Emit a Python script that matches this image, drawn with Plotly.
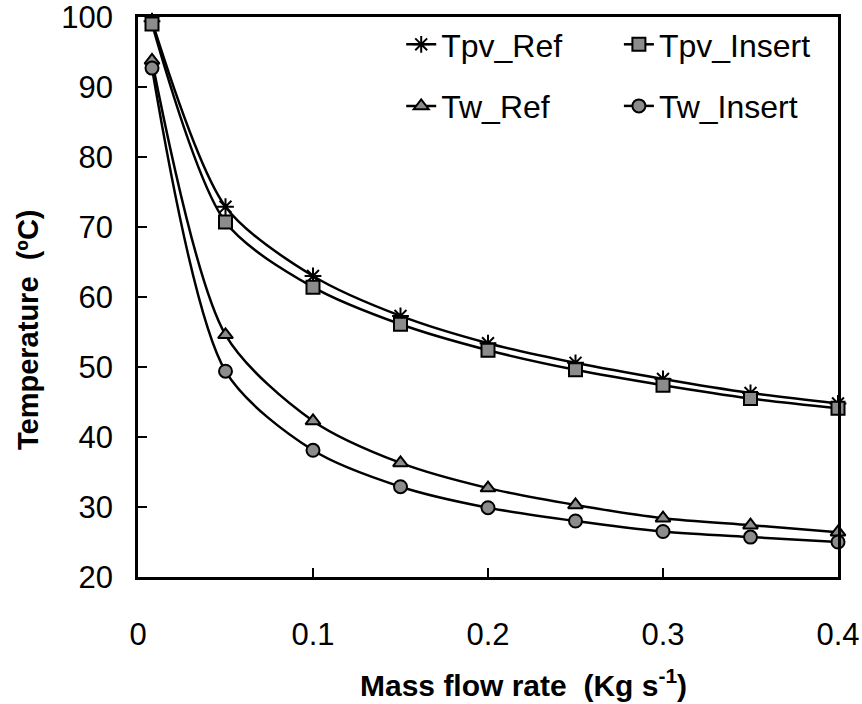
import plotly.graph_objects as go

mass_flow = [0.008, 0.05, 0.10, 0.15, 0.20, 0.25, 0.30, 0.35, 0.40]
tpv_ref = [99.4, 72.9, 63.0, 57.3, 53.4, 50.6, 48.3, 46.3, 44.8]
tpv_insert = [99.0, 70.7, 61.4, 56.1, 52.4, 49.6, 47.4, 45.5, 44.1]
tw_ref = [93.8, 54.6, 42.3, 36.3, 32.7, 30.3, 28.4, 27.4, 26.4]
tw_insert = [92.7, 49.4, 38.1, 32.9, 29.9, 28.0, 26.5, 25.7, 25.0]

x_ticks = [0, 0.1, 0.2, 0.3, 0.4]
x_tick_text = ["0", "0.1", "0.2", "0.3", "0.4"]
y_ticks = [20, 30, 40, 50, 60, 70, 80, 90, 100]

FONT = "Liberation Sans, Arial, sans-serif"
GRAY = "#8c8c8c"

series = [
    ("Tpv_Ref", tpv_ref, "asterisk-open", "legend", "g1"),
    ("Tw_Ref", tw_ref, "triangle-up", "legend", "g2"),
    ("Tpv_Insert", tpv_insert, "square", "legend2", "g3"),
    ("Tw_Insert", tw_insert, "circle", "legend2", "g4"),
]

fig = go.Figure()
for name, vals, sym, leg, grp in series:
    star = sym == "asterisk-open"
    fig.add_trace(go.Scatter(
        x=mass_flow, y=vals, name=name, mode="lines+markers",
        line=dict(color="black", width=2.5, shape="spline", smoothing=0.8),
        marker=dict(symbol=sym, size=14 if star else 13,
                    color="black" if star else GRAY,
                    line=dict(color="black", width=2)),
        legend=leg, legendgroup=grp, cliponaxis=False,
    ))

axis_common = dict(
    showline=True, linecolor="black", linewidth=2.5, mirror=True,
    ticks="inside", ticklen=9, tickwidth=2, tickcolor="black",
    showgrid=False, zeroline=False, automargin=False,
    ticklabeloverflow="allow",
    tickfont=dict(family=FONT, size=31, color="black"),
)

fig.update_xaxes(range=[0, 0.4], tickvals=x_ticks, ticktext=x_tick_text,
                 ticklabelstandoff=28, **axis_common)
fig.update_yaxes(range=[20, 100], tickvals=y_ticks, ticklabelstandoff=16, **axis_common)

fig.add_annotation(text="<b>Mass flow rate  (Kg s<sup>-1</sup>)</b>",
                   xref="paper", yref="paper", x=(523 - 138) / 700, y=-(683 - 577) / 560,
                   xanchor="center", yanchor="middle", showarrow=False,
                   font=dict(family=FONT, size=30, color="black"))
fig.add_annotation(text="<b>Temperature  (ºC)</b>", textangle=-90,
                   xref="paper", yref="paper", x=(28 - 138) / 700, y=(577 - 330) / 560,
                   xanchor="center", yanchor="middle", showarrow=False,
                   font=dict(family=FONT, size=29, color="black"))

leg_common = dict(font=dict(family=FONT, size=32, color="black"),
                  bgcolor="rgba(0,0,0,0)", tracegroupgap=17,
                  yanchor="top", xanchor="left", orientation="v")
fig.update_layout(
    width=862, height=704,
    margin=dict(l=138, r=24, t=17, b=127, autoexpand=False),
    plot_bgcolor="white", paper_bgcolor="white",
    legend=dict(x=0.376, y=1.0, **leg_common),
    legend2=dict(x=0.687, y=1.0, **leg_common),
    showlegend=True,
)

fig.write_html("out.html")
